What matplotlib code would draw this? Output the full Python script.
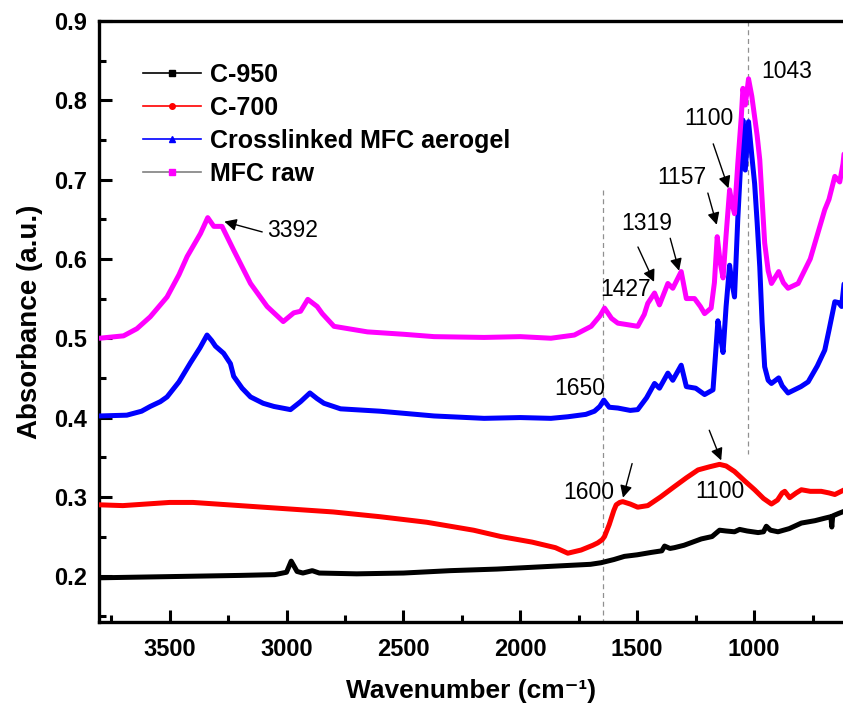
import numpy as np
import matplotlib
matplotlib.use("Agg")
import matplotlib.pyplot as plt
from matplotlib.lines import Line2D
from matplotlib.ticker import MultipleLocator

plt.rcParams["font.family"] = ["Liberation Sans", "DejaVu Sans"]

# ─────────────────────────────────────────────
# FTIR spectra
# ─────────────────────────────────────────────
wn_c950 = [3800, 3600, 3400, 3200, 3050, 3000, 2980, 2955, 2930, 2890,
           2860, 2700, 2500, 2300, 2100, 1900, 1700, 1655, 1600, 1555,
           1500, 1440, 1395, 1383, 1360, 1341, 1300, 1226, 1180, 1148,
           1120, 1084, 1062, 1030, 983, 960, 948, 930, 898, 850,
           798, 740, 700, 672, 668, 664, 640, 614]
a_c950 = [0.198, 0.199, 0.200, 0.201, 0.202, 0.205, 0.219, 0.206, 0.204, 0.207,
          0.204, 0.203, 0.204, 0.207, 0.209, 0.212, 0.215, 0.217, 0.221, 0.225,
          0.227, 0.230, 0.232, 0.238, 0.235, 0.236, 0.239, 0.247, 0.250, 0.258,
          0.257, 0.256, 0.259, 0.257, 0.255, 0.256, 0.263, 0.258, 0.256, 0.260,
          0.267, 0.270, 0.273, 0.275, 0.262, 0.276, 0.279, 0.282]

wn_c700 = [3800, 3700, 3600, 3500, 3400, 3300, 3200, 3000, 2800, 2600,
           2400, 2200, 2083, 1950, 1850, 1797, 1740, 1690, 1669, 1650,
           1640, 1620, 1600, 1590, 1575, 1562, 1530, 1498, 1455, 1400,
           1341, 1290, 1240, 1190, 1148, 1120, 1084, 1040, 998, 960,
           926, 900, 880, 869, 848, 820, 798, 760, 713, 680,
           655, 614]
a_c700 = [0.290, 0.289, 0.291, 0.293, 0.293, 0.291, 0.289, 0.285, 0.281, 0.275,
          0.268, 0.258, 0.250, 0.243, 0.236, 0.229, 0.233, 0.239, 0.242, 0.246,
          0.250, 0.265, 0.283, 0.290, 0.293, 0.294, 0.291, 0.287, 0.289, 0.300,
          0.313, 0.324, 0.334, 0.338, 0.341, 0.339, 0.332, 0.320, 0.309, 0.298,
          0.291, 0.296, 0.305, 0.307, 0.299, 0.305, 0.309, 0.307, 0.307, 0.305,
          0.303, 0.309]

wn_cl = [3800, 3683, 3620, 3583, 3540, 3511, 3460, 3411, 3370, 3340,
         3320, 3304, 3269, 3240, 3226, 3190, 3154, 3100, 3054, 2983,
         2940, 2900, 2870, 2840, 2769, 2600, 2369, 2155, 2000, 1869,
         1797, 1720, 1683, 1660, 1643, 1620, 1583, 1530, 1498, 1460,
         1426, 1405, 1369, 1348, 1312, 1290, 1250, 1212, 1176, 1165,
         1155, 1143, 1133, 1120, 1105, 1095, 1084, 1070, 1048, 1038,
         1024, 1010, 998, 987, 976, 966, 955, 940, 926, 895,
         880, 855, 800, 769, 730, 698, 680, 655, 640, 626,
         614]
a_cl = [0.402, 0.403, 0.408, 0.414, 0.420, 0.426, 0.445, 0.469, 0.488, 0.504,
        0.497, 0.490, 0.481, 0.468, 0.452, 0.437, 0.426, 0.418, 0.414, 0.410,
        0.420, 0.431, 0.424, 0.418, 0.411, 0.408, 0.402, 0.399, 0.400, 0.399,
        0.401, 0.404, 0.408, 0.414, 0.422, 0.413, 0.412, 0.409, 0.410, 0.425,
        0.443, 0.437, 0.456, 0.447, 0.466, 0.439, 0.437, 0.429, 0.435, 0.480,
        0.522, 0.500, 0.482, 0.540, 0.592, 0.570, 0.552, 0.650, 0.775, 0.712,
        0.773, 0.730, 0.695, 0.645, 0.590, 0.520, 0.464, 0.447, 0.443, 0.450,
        0.440, 0.431, 0.439, 0.445, 0.465, 0.485, 0.510, 0.546, 0.545, 0.540,
        0.573]

wn_raw = [3800, 3697, 3640, 3583, 3511, 3460, 3425, 3368, 3337, 3311,
          3276, 3226, 3154, 3083, 3014, 2969, 2940, 2909, 2869, 2847,
          2797, 2654, 2500, 2369, 2155, 2000, 1869, 1769, 1697, 1660,
          1640, 1610, 1583, 1540, 1498, 1470, 1455, 1426, 1405, 1369,
          1348, 1312, 1290, 1255, 1230, 1212, 1184, 1170, 1158, 1145,
          1133, 1120, 1105, 1095, 1084, 1070, 1055, 1048, 1038, 1024,
          1010, 998, 987, 976, 966, 955, 940, 926, 895, 875,
          855, 812, 760, 730, 698, 680, 655, 634, 620, 614]
a_raw = [0.500, 0.503, 0.512, 0.527, 0.552, 0.580, 0.603, 0.632, 0.652, 0.641,
         0.641, 0.611, 0.569, 0.540, 0.521, 0.532, 0.534, 0.549, 0.540, 0.531,
         0.515, 0.508, 0.505, 0.502, 0.501, 0.502, 0.500, 0.504, 0.515, 0.528,
         0.538, 0.525, 0.519, 0.517, 0.515, 0.530, 0.544, 0.557, 0.542, 0.569,
         0.563, 0.584, 0.550, 0.550, 0.540, 0.531, 0.538, 0.570, 0.628, 0.595,
         0.576, 0.630, 0.687, 0.670, 0.657, 0.720, 0.779, 0.815, 0.794, 0.827,
         0.805, 0.779, 0.755, 0.725, 0.675, 0.620, 0.585, 0.569, 0.584, 0.570,
         0.563, 0.569, 0.600, 0.630, 0.662, 0.675, 0.704, 0.697, 0.720, 0.737]

labels = ["C-950", "C-700", "Crosslinked MFC aerogel", "MFC raw"]
colors = ["black", "red", "blue", "magenta"]
markers = ["s", "o", "^", "s"]
legend_line_colors = ["black", "red", "blue", "#808080"]

x_ticks = [3500, 3000, 2500, 2000, 1500, 1000]
y_ticks = [0.2, 0.3, 0.4, 0.5, 0.6, 0.7, 0.8, 0.9]

# ─────────────────────────────────────────────
# Plot
# ─────────────────────────────────────────────
fig = plt.figure(figsize=(8.43, 7.21), dpi=100)
ax = fig.add_axes([0.118, 0.137, 0.882, 0.834])

series = [(wn_c950, a_c950), (wn_c700, a_c700), (wn_cl, a_cl), (wn_raw, a_raw)]
for (wn, a), c in zip(series, colors):
    ax.plot(wn, a, color=c, lw=3.6, solid_joinstyle="round",
            solid_capstyle="round", zorder=3)

# guide lines
ax.plot([1645, 1645], [0.687, 0.142], ls=(0, (4, 3)), color="#909090", lw=0.9, zorder=1)
ax.plot([1027, 1027], [0.9, 0.354], ls=(0, (4, 3)), color="#909090", lw=0.9, zorder=1)

# peak labels
arrow = dict(arrowstyle="-|>", color="black", lw=1.0, mutation_scale=18,
             shrinkA=0, shrinkB=0)
txt = dict(fontsize=16.5, ha="center", va="center")
ax.annotate("", xy=(3266, 0.647), xytext=(3104, 0.634), arrowprops=arrow)
ax.text(2974, 0.636, "3392", **txt)
ax.annotate("", xy=(1428, 0.571), xytext=(1497, 0.615), arrowprops=arrow)
ax.text(1548, 0.562, "1427", **txt)
ax.annotate("", xy=(1321, 0.585), xytext=(1359, 0.626), arrowprops=arrow)
ax.text(1459, 0.645, "1319", **txt)
ax.annotate("", xy=(1160, 0.643), xytext=(1198, 0.683), arrowprops=arrow)
ax.text(1309, 0.703, "1157", **txt)
ax.annotate("", xy=(1110, 0.689), xytext=(1175, 0.745), arrowprops=arrow)
ax.text(1195, 0.777, "1100", **txt)
ax.text(859, 0.836, "1043", **txt)
ax.text(1748, 0.437, "1650", **txt)
ax.annotate("", xy=(1561, 0.299), xytext=(1522, 0.342), arrowprops=arrow)
ax.text(1707, 0.305, "1600", **txt)
ax.annotate("", xy=(1141, 0.346), xytext=(1192, 0.384), arrowprops=arrow)
ax.text(1148, 0.307, "1100", **txt)

# axes styling
ax.set_xlim(3800, 620)
ax.set_ylim(0.142, 0.9)
ax.set_xticks(x_ticks)
ax.set_yticks(y_ticks)
ax.set_yticklabels([f"{v:.1f}" for v in y_ticks])
ax.xaxis.set_minor_locator(MultipleLocator(250))
ax.yaxis.set_minor_locator(MultipleLocator(0.05))
ax.tick_params(which="both", direction="in", width=2.2, top=False, right=False)
ax.tick_params(which="major", length=9, labelsize=17)
ax.tick_params(which="minor", length=5)
ax.tick_params(axis="x", which="major", pad=11)
ax.tick_params(axis="y", which="major", pad=9)
for lab in ax.get_xticklabels() + ax.get_yticklabels():
    lab.set_fontweight("bold")
for s in ["left", "bottom", "top"]:
    ax.spines[s].set_linewidth(2.4)
ax.spines["right"].set_visible(False)

ax.set_xlabel("Wavenumber (cm\u207b\u00b9)", fontsize=19, fontweight="bold", labelpad=13)
ax.set_ylabel("Absorbance (a.u.)", fontsize=20, fontweight="bold", labelpad=8)

handles = [Line2D([], [], color=lc, lw=1.2, marker=m, ms=4, mfc=c, mec=c)
           for lc, c, m in zip(legend_line_colors, colors, markers)]
ax.legend(handles, labels, loc="upper left", bbox_to_anchor=(0.058, 0.93),
          frameon=False, prop=dict(size=18, weight="bold"), handlelength=2.35,
          handletextpad=0.35, labelspacing=0.36, borderpad=0, borderaxespad=0)

plt.savefig("out.png", dpi=100)
plt.close()
